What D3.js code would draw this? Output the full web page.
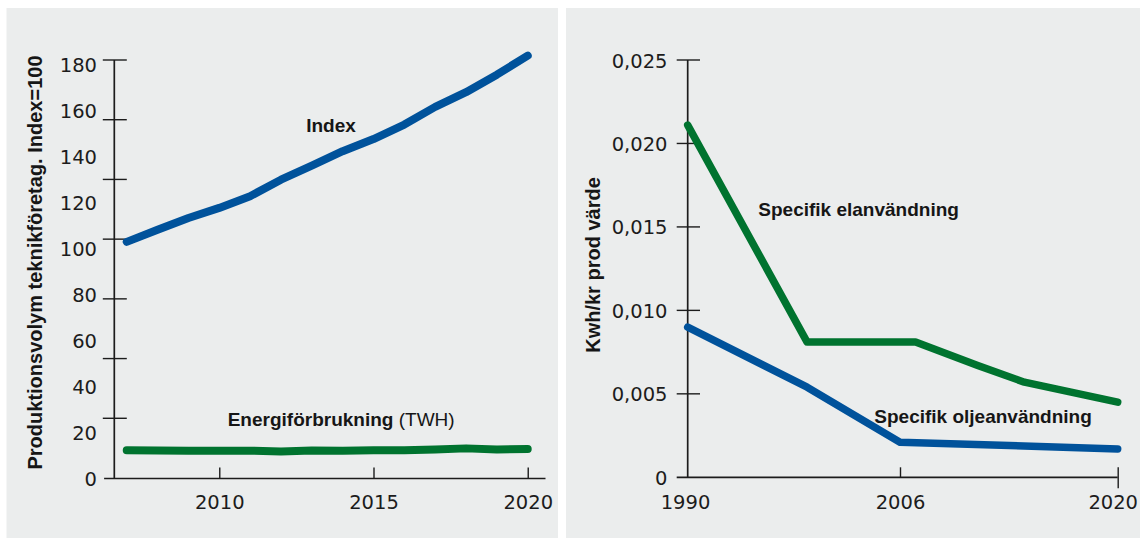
<!DOCTYPE html>
<html lang="sv">
<head>
<meta charset="utf-8">
<script src="https://cdn.jsdelivr.net/npm/d3@7"></script>
<style>
  html, body { margin: 0; padding: 0; background: #ffffff; }
  svg { display: block; }
  .tick-label { font-family: "DejaVu Sans", sans-serif; font-size: 19.5px; fill: #1c1c1c; }
  .series-label { font-family: "Liberation Sans", Arial, sans-serif; font-size: 19px; font-weight: bold; fill: #161616; }
  .axis-title { font-family: "Liberation Sans", Arial, sans-serif; font-size: 20px; font-weight: bold; fill: #161616; }
</style>
</head>
<body>
<svg id="chart" width="1140" height="538"></svg>
<script>
// ---- Left panel: production volume index and energy use ----
const years = [2007, 2008, 2009, 2010, 2011, 2012, 2013, 2014, 2015, 2016, 2017, 2018, 2019, 2020];
const productionIndex = [102.8, 108.1, 113.2, 117.6, 122.7, 129.9, 136.0, 142.3, 147.6, 153.9, 161.6, 168.0, 175.6, 183.9];
const energyTWh = [12.1, 12.0, 11.9, 11.9, 11.9, 11.5, 12.0, 11.9, 12.1, 12.1, 12.4, 12.9, 12.4, 12.6];
const leftYearTicks = [2010, 2015, 2020];
const leftValueTicks = [0, 20, 40, 60, 80, 100, 120, 140, 160, 180];

// ---- Right panel: specific electricity and oil use per SEK of production ----
const elYears = [1990, 1999, 2007, 2011, 2014, 2017, 2020];
const elValues = [0.0211, 0.0081, 0.0081, 0.0067, 0.0057, 0.0051, 0.0045];
const oilYears = [1990, 1999, 2006, 2020];
const oilValues = [0.0090, 0.0054, 0.0021, 0.0017];
const rightYearTicks = [1990, 2006, 2020];
const rightValueTicks = [0, 0.005, 0.010, 0.015, 0.020, 0.025];

const BLUE = "#00529b";
const GREEN = "#00732f";
const INK = "#1c1c1c";
const PANEL = "#ebeded";

const svg = d3.select("#chart");

// panel backgrounds
svg.append("rect").attr("x", 6.5).attr("y", 8).attr("width", 551.5).attr("height", 530).attr("fill", PANEL);
svg.append("rect").attr("x", 566).attr("y", 8).attr("width", 574).attr("height", 530).attr("fill", PANEL);

const svLocale = d3.formatLocale({ decimal: ",", thousands: " ", grouping: [3], currency: ["", " kr"] });
const fmt3 = svLocale.format(".3f");

// ================= LEFT PANEL =================
const xL = d3.scaleLinear().domain([2006.25, 2020.56]).range([103.6, 545]);
const yL = d3.scaleLinear().domain([0, 182]).range([478, 60]);
const axisXL = 114.3;

const gL = svg.append("g");

// vertical axis line
gL.append("line")
  .attr("x1", axisXL).attr("x2", axisXL)
  .attr("y1", yL(182)).attr("y2", yL(0))
  .attr("stroke", INK).attr("stroke-width", 1.7);

// cross tick marks: seven equal steps along the axis
const tickStepL = d3.scaleLinear().domain([0, 7]).range([yL(0), yL(182)]);
gL.append("g").selectAll("line").data(d3.range(1, 8)).join("line")
  .attr("x1", axisXL - 11.5).attr("x2", axisXL + 12.5)
  .attr("y1", d => tickStepL(d)).attr("y2", d => tickStepL(d))
  .attr("stroke", INK).attr("stroke-width", 1.4);

// value labels
const yAxisL = d3.axisLeft(yL).tickValues(leftValueTicks).tickSize(0).tickPadding(0).tickFormat(d3.format("d"));
const yAxisLG = gL.append("g").attr("transform", `translate(97,0)`).call(yAxisL);
yAxisLG.select(".domain").remove();
yAxisLG.selectAll("text").attr("class", "tick-label").attr("fill", null).attr("dy", "0.36em").attr("x", 0);

// horizontal axis
const xAxisL = d3.axisBottom(xL).tickValues(leftYearTicks).tickSizeInner(-10.5).tickSizeOuter(0).tickPadding(0).tickFormat(d3.format("d"));
const xAxisLG = gL.append("g").attr("transform", `translate(0,${yL(0)})`).call(xAxisL);
xAxisLG.select(".domain").attr("stroke", INK).attr("stroke-width", 1.7);
xAxisLG.selectAll(".tick line").attr("stroke", INK).attr("stroke-width", 1.4);
xAxisLG.selectAll("text").attr("class", "tick-label").attr("fill", null).attr("y", 23.7).attr("dy", "0.36em");

const lineL = d3.line().x(d => xL(d[0])).y(d => yL(d[1]));
gL.append("path")
  .datum(years.map((yr, i) => [yr, energyTWh[i]]))
  .attr("d", lineL).attr("fill", "none").attr("stroke", GREEN)
  .attr("stroke-width", 8).attr("stroke-linecap", "round").attr("stroke-linejoin", "round");
gL.append("path")
  .datum(years.map((yr, i) => [yr, productionIndex[i]]))
  .attr("d", lineL).attr("fill", "none").attr("stroke", BLUE)
  .attr("stroke-width", 8).attr("stroke-linecap", "round").attr("stroke-linejoin", "round");

gL.append("text").attr("class", "series-label")
  .attr("x", 331).attr("y", 125).attr("dy", "0.36em").attr("text-anchor", "middle")
  .text("Index");

const energyLabel = gL.append("text").attr("class", "series-label")
  .attr("x", 227.7).attr("y", 419.3).attr("dy", "0.36em");
energyLabel.append("tspan").text("Energiförbrukning");
energyLabel.append("tspan").attr("font-weight", "normal").text(" (TWH)");

gL.append("text").attr("class", "axis-title")
  .attr("transform", "translate(34.5,262.5) rotate(-90)")
  .attr("text-anchor", "middle").attr("dy", "0.36em")
  .text("Produktionsvolym teknikföretag. Index=100");

// ================= RIGHT PANEL =================
const xR = d3.scaleLinear().domain([1990, 2006, 2020]).range([687.7, 900, 1117.7]);
const yR = d3.scaleLinear().domain([0, 0.025]).range([477.3, 60]);
const axisXR = xR(1990);

const gR = svg.append("g");

gR.append("line")
  .attr("x1", axisXR).attr("x2", axisXR)
  .attr("y1", yR(0.025)).attr("y2", yR(0))
  .attr("stroke", INK).attr("stroke-width", 1.7);

gR.append("g").selectAll("line").data(rightValueTicks.slice(1)).join("line")
  .attr("x1", axisXR - 11).attr("x2", axisXR + 12.3)
  .attr("y1", d => yR(d)).attr("y2", d => yR(d))
  .attr("stroke", INK).attr("stroke-width", 1.4);

const yAxisR = d3.axisLeft(yR).tickValues(rightValueTicks).tickSize(0).tickPadding(0)
  .tickFormat(d => d === 0 ? "0" : fmt3(d));
const yAxisRG = gR.append("g").attr("transform", `translate(667.5,0)`).call(yAxisR);
yAxisRG.select(".domain").remove();
yAxisRG.selectAll("text").attr("class", "tick-label").attr("fill", null).attr("dy", "0.36em").attr("x", 0);

// horizontal axis line starts at the left end of the value ticks
gR.append("line")
  .attr("x1", axisXR - 11).attr("x2", xR(2020))
  .attr("y1", yR(0)).attr("y2", yR(0))
  .attr("stroke", INK).attr("stroke-width", 1.7);

const xAxisR = d3.axisBottom(xR).tickValues(rightYearTicks).tickSizeInner(-10).tickSizeOuter(0).tickPadding(0).tickFormat(d3.format("d"));
const xAxisRG = gR.append("g").attr("transform", `translate(0,${yR(0)})`).call(xAxisR);
xAxisRG.select(".domain").remove();
xAxisRG.selectAll(".tick line").attr("stroke", INK).attr("stroke-width", 1.4)
  .attr("y2", d => d === 1990 ? 0 : -10)
  .attr("y1", d => d === 2020 ? 11 : 0);
xAxisRG.selectAll("text").attr("class", "tick-label").attr("fill", null).attr("y", 24.4).attr("dy", "0.36em")
  .attr("dx", d => d === 1990 ? -2.7 : d === 2020 ? -5 : 0);

const lineR = d3.line().x(d => xR(d[0])).y(d => yR(d[1]));
gR.append("path")
  .datum(elYears.map((yr, i) => [yr, elValues[i]]))
  .attr("d", lineR).attr("fill", "none").attr("stroke", GREEN)
  .attr("stroke-width", 7.5).attr("stroke-linecap", "round").attr("stroke-linejoin", "round");
gR.append("path")
  .datum(oilYears.map((yr, i) => [yr, oilValues[i]]))
  .attr("d", lineR).attr("fill", "none").attr("stroke", BLUE)
  .attr("stroke-width", 7.5).attr("stroke-linecap", "round").attr("stroke-linejoin", "round");

gR.append("text").attr("class", "series-label")
  .attr("x", 758.3).attr("y", 209.3).attr("dy", "0.36em")
  .text("Specifik elanvändning");
gR.append("text").attr("class", "series-label")
  .attr("x", 874.3).attr("y", 415.7).attr("dy", "0.36em")
  .text("Specifik oljeanvändning");

gR.append("text").attr("class", "axis-title")
  .attr("transform", "translate(593,265) rotate(-90)")
  .attr("text-anchor", "middle").attr("dy", "0.36em")
  .text("Kwh/kr prod värde");
</script>
</body>
</html>
